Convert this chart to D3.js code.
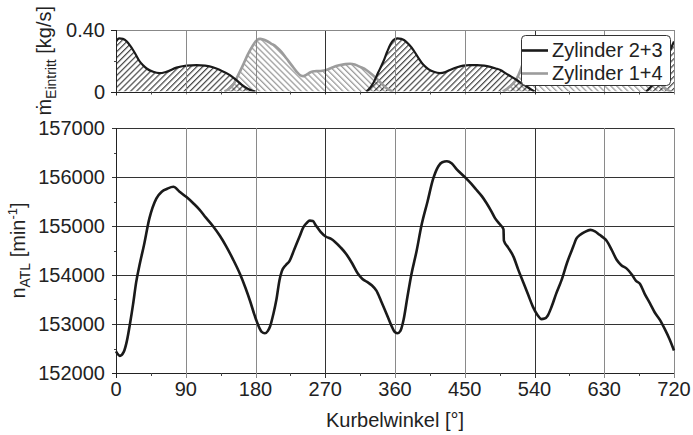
<!DOCTYPE html>
<html><head><meta charset="utf-8">
<script src="https://cdn.jsdelivr.net/npm/d3@7"></script>
<style>body{margin:0;background:#fff}svg{display:block}text{font-family:"Liberation Sans",Arial,sans-serif;fill:#222}</style>
</head><body><svg id="c" width="693" height="435"></svg>
<script>
// ---- data ----
const xTicks = [0, 90, 180, 270, 360, 450, 540, 630, 720];
const xMinorTicks = [45, 135, 225, 315, 405, 495, 585, 675];
const nTicks = [152000, 153000, 154000, 155000, 156000, 157000];
const nMinorTicks = [152500, 153500, 154500, 155500, 156500];
const mTicks = [0, 0.40];
const mTickLabels = ["0", "0.40"];
const mMinorTicks = [0.2];
const seriesNames = ["Zylinder 2+3", "Zylinder 1+4"];

// turbocharger speed n_ATL [1/min] vs crank angle [deg]
const nAtl = [
 [0,152440],[5,152350],[10,152430],[14,152650],[18,153000],[22,153400],[26,153850],[31,154250],
 [36,154600],[43,155150],[52,155560],[59,155700],[66,155760],[74,155800],[82,155700],[91,155590],
 [100,155460],[108,155330],[116,155170],[125,155000],[134,154800],[142,154590],[151,154320],
 [160,154020],[167,153740],[173,153470],[179,153170],[185,152920],[188,152840],[192,152810],
 [196,152860],[199,152960],[203,153200],[207,153500],[211,153900],[214,154080],[219,154200],
 [224,154290],[230,154520],[237,154790],[242,154980],[246,155060],[250,155110],[254,155100],
 [258,155010],[264,154880],[271,154780],[277,154740],[283,154670],[290,154560],[297,154430],
 [305,154230],[312,154030],[318,153920],[324,153860],[330,153790],[336,153680],[342,153470],
 [349,153210],[355,152980],[359,152850],[363,152810],[367,152860],[371,153080],[376,153550],
 [381,154000],[388,154500],[394,155000],[402,155500],[409,155950],[416,156220],[421,156300],
 [427,156320],[433,156280],[440,156150],[450,156000],[458,155870],[465,155740],[472,155610],
 [478,155470],[484,155310],[489,155160],[495,155040],[500,154930],[500.5,154700],[506,154560],
 [513,154370],[519,154110],[526,153830],[532,153590],[538,153350],[544,153180],[549,153100],
 [553,153110],[557,153170],[562,153350],[568,153620],[575,153900],[582,154250],[590,154580],
 [594,154740],[599,154820],[605,154880],[612,154920],[618,154890],[624,154820],[629,154760],
 [633,154700],[640,154500],[646,154310],[652,154200],[659,154130],[666,154000],[671,153880],
 [676,153820],[682,153620],[689,153420],[695,153240],[702,153080],[708,152900],[714,152700],
 [720,152460]
];

// inlet mass flow [kg/s], cylinders 2+3
const zyl23 = [
 [0,0.325],[4,0.345],[9,0.342],[14,0.325],[18,0.300],[22,0.270],[26,0.236],[30,0.200],[35,0.170],
 [40,0.148],[48,0.128],[56,0.119],[65,0.128],[78,0.155],[91,0.168],[104,0.172],[115,0.168],
 [125,0.158],[134,0.140],[147,0.107],[155,0.075],[162,0.045],[170,0.018],[176,0.005],[180,0],
 [323,0],[328,0.025],[332,0.055],[338,0.120],[345,0.195],[350,0.260],[354,0.305],[358,0.335],
 [363,0.346],[368,0.342],[372,0.333],[378,0.305],[384,0.268],[390,0.220],[397,0.172],[403,0.145],
 [410,0.128],[418,0.119],[425,0.126],[431,0.140],[440,0.158],[448,0.168],[456,0.172],[466,0.172],
 [475,0.168],[483,0.160],[490,0.150],[496,0.140],[503,0.118],[510,0.097],[517,0.075],[523,0.055],
 [530,0.032],[536,0.012],[540,0],
 [684,0],[690,0.030],[696,0.070],[702,0.115],[708,0.175],[714,0.255],[720,0.325]
];

// inlet mass flow [kg/s], cylinders 1+4
const zyl14 = [
 [140,0],[145,0.015],[151,0.043],[157,0.100],[164,0.173],[170,0.240],[177,0.303],[182,0.335],
 [186,0.342],[190,0.338],[194,0.330],[200,0.312],[207,0.290],[214,0.255],[220,0.215],[227,0.168],
 [233,0.130],[238,0.105],[242,0.100],[246,0.110],[251,0.125],[256,0.132],[261,0.133],[266,0.135],
 [271,0.140],[280,0.158],[288,0.170],[296,0.178],[302,0.180],[308,0.175],[315,0.160],[323,0.140],
 [330,0.112],[336,0.085],[342,0.055],[349,0.022],[354,0.007],[358,0],
 [499,0],[505,0.020],[511,0.045],[516,0.075],[522,0.140],[526,0.200],[531,0.270],[536,0.315],
 [541,0.338],[545,0.342],[550,0.335],[558,0.312],[566,0.285],[573,0.250],[580,0.210],[587,0.165],
 [593,0.128],[598,0.105],[602,0.100],[607,0.110],[612,0.125],[620,0.133],[630,0.140],[640,0.160],
 [648,0.170],[656,0.178],[662,0.180],[668,0.175],[675,0.160],[683,0.138],[690,0.110],[696,0.082],
 [702,0.052],[708,0.022],[713,0.006],[717,0]
];

// ---- drawing ----
const svg = d3.select("#c");
const x = d3.scaleLinear().domain([0, 720]).range([116, 674]);
const yT = d3.scaleLinear().domain([0, 0.4]).range([91.5, 30]);
const yB = d3.scaleLinear().domain([152000, 157000]).range([373, 128]);
const px = v => Math.round(v) + 0.5;
const vCol = d => (d === 270 || d === 540) ? "#333" : "#8a8a8a";

const defs = svg.append("defs");
function hatch(id, angle, color, w) {
  defs.append("pattern").attr("id", id).attr("patternUnits", "userSpaceOnUse")
    .attr("width", 4.2).attr("height", 4.2).attr("patternTransform", `rotate(${angle})`)
    .append("line").attr("x1", 1.5).attr("x2", 1.5).attr("y1", -1).attr("y2", 6)
    .attr("stroke", color).attr("stroke-width", w);
}
hatch("hb", 45, "#1e1e1e", 1.0);
hatch("hg", -45, "#969696", 1.2);
defs.append("clipPath").attr("id", "clipT").append("rect")
  .attr("x", x(0)).attr("y", yT(0.4)).attr("width", x(720) - x(0)).attr("height", yT(0) - yT(0.4));

// ---------- top panel ----------
const gT = svg.append("g");
function segs(data) {
  const out = []; let cur = null;
  data.forEach(d => {
    if (cur && cur.length > 1 && cur[cur.length - 1][1] === 0 && d[1] === 0) { out.push(cur); cur = null; }
    if (!cur) cur = [];
    cur.push(d);
  });
  if (cur && cur.length > 1) out.push(cur);
  return out.filter(s => s.some(d => d[1] > 0));
}
const areaT = d3.area().x(d => x(d[0])).y0(yT(0)).y1(d => yT(d[1])).curve(d3.curveMonotoneX);
const lineT = d3.line().x(d => x(d[0])).y(d => yT(d[1])).curve(d3.curveMonotoneX);
const plotT = gT.append("g").attr("clip-path", "url(#clipT)");
segs(zyl14).forEach(s => plotT.append("path").attr("d", areaT(s)).attr("fill", "url(#hg)"));
segs(zyl23).forEach(s => plotT.append("path").attr("d", areaT(s)).attr("fill", "url(#hb)"));
xTicks.slice(1).forEach(t => gT.append("line").attr("x1", px(x(t))).attr("x2", px(x(t)))
  .attr("y1", yT(0.4)).attr("y2", yT(0) + 3).attr("stroke", vCol(t)).attr("stroke-width", 1));
segs(zyl14).forEach(s => plotT.append("path").attr("d", lineT(s)).attr("fill", "none")
  .attr("stroke", "#9c9c9c").attr("stroke-width", 2.6));
segs(zyl23).forEach(s => plotT.append("path").attr("d", lineT(s)).attr("fill", "none")
  .attr("stroke", "#1a1a1a").attr("stroke-width", 2.2));
gT.append("line").attr("x1", x(0)).attr("x2", x(720)).attr("y1", px(yT(0.4))).attr("y2", px(yT(0.4)))
  .attr("stroke", "#888");
gT.append("line").attr("x1", x(0) - 5).attr("x2", x(720)).attr("y1", px(yT(0))).attr("y2", px(yT(0)))
  .attr("stroke", "#222");
gT.append("line").attr("x1", px(x(0))).attr("x2", px(x(0))).attr("y1", yT(0.4)).attr("y2", yT(0) + 4)
  .attr("stroke", "#222");
xMinorTicks.forEach(t => gT.append("line").attr("x1", px(x(t))).attr("x2", px(x(t)))
  .attr("y1", yT(0)).attr("y2", yT(0) + 3).attr("stroke", "#444"));
mTicks.forEach((t, i) => {
  gT.append("line").attr("x1", x(0) - 5).attr("x2", x(0)).attr("y1", px(yT(t))).attr("y2", px(yT(t))).attr("stroke", "#222");
  gT.append("text").attr("x", 105).attr("y", yT(t)).attr("dy", "0.36em").attr("text-anchor", "end")
    .attr("font-size", 20).text(mTickLabels[i]);
});
mMinorTicks.forEach(t => gT.append("line").attr("x1", x(0) - 2).attr("x2", x(0) + 1)
  .attr("y1", px(yT(t))).attr("y2", px(yT(t))).attr("stroke", "#444"));
const tT = svg.append("text").attr("transform", `translate(51,${(yT(0) + yT(0.4)) / 2}) rotate(-90)`)
  .attr("text-anchor", "middle").attr("font-size", 20);
tT.append("tspan").text("ṁ");
tT.append("tspan").attr("dy", 5).attr("font-size", 14).text("Eintritt");
tT.append("tspan").attr("dy", -5).text(" [kg/s]");

// legend
const lg = svg.append("g");
lg.append("rect").attr("x", 521.5).attr("y", 35.5).attr("width", 149).attr("height", 50).attr("rx", 4)
  .attr("fill", "#fff").attr("stroke", "#333");
[["#1a1a1a", 50.5, 57], ["#9c9c9c", 73.5, 80]].forEach((c, i) => {
  lg.append("line").attr("x1", 522).attr("x2", 548).attr("y1", c[1]).attr("y2", c[1])
    .attr("stroke", c[0]).attr("stroke-width", 2.6);
  lg.append("text").attr("x", 552).attr("y", c[2]).attr("font-size", 20).text(seriesNames[i]);
});

// ---------- bottom panel ----------
const gB = svg.append("g");
nTicks.forEach(t => {
  gB.append("line").attr("x1", x(0) - 4).attr("x2", x(720)).attr("y1", px(yB(t))).attr("y2", px(yB(t)))
    .attr("stroke", t === 152000 ? "#222" : "#333");
  gB.append("text").attr("x", 105).attr("y", yB(t)).attr("dy", "0.36em").attr("text-anchor", "end")
    .attr("font-size", 20).text(t);
});
nMinorTicks.forEach(t => gB.append("line").attr("x1", x(0) - 2).attr("x2", x(0) + 1)
  .attr("y1", px(yB(t))).attr("y2", px(yB(t))).attr("stroke", "#444"));
xTicks.forEach(t => {
  gB.append("line").attr("x1", px(x(t))).attr("x2", px(x(t))).attr("y1", yB(157000)).attr("y2", yB(152000) + 5)
    .attr("stroke", t === 0 ? "#222" : vCol(t));
  gB.append("text").attr("x", x(t)).attr("y", 396).attr("text-anchor", "middle")
    .attr("font-size", 20).text(t);
});
xMinorTicks.forEach(t => gB.append("line").attr("x1", px(x(t))).attr("x2", px(x(t)))
  .attr("y1", yB(152000)).attr("y2", yB(152000) + 3).attr("stroke", "#444"));
const lineB = d3.line().x(d => x(d[0])).y(d => yB(d[1])).curve(d3.curveMonotoneX);
gB.append("path").attr("d", lineB(nAtl)).attr("fill", "none").attr("stroke", "#1a1a1a")
  .attr("stroke-width", 2.6).attr("stroke-linejoin", "round");
svg.append("text").attr("x", (x(0) + x(720)) / 2).attr("y", 427).attr("text-anchor", "middle")
  .attr("font-size", 20).text("Kurbelwinkel [°]");
const tB = svg.append("text").attr("transform", `translate(25,${(yB(152000) + yB(157000)) / 2}) rotate(-90)`)
  .attr("text-anchor", "middle").attr("font-size", 20);
tB.append("tspan").text("n");
tB.append("tspan").attr("dy", 5).attr("font-size", 14).text("ATL");
tB.append("tspan").attr("dy", -5).text(" [min");
tB.append("tspan").attr("dy", -8).attr("font-size", 13).text("-1");
tB.append("tspan").attr("dy", 8).text("]");
</script></body></html>
